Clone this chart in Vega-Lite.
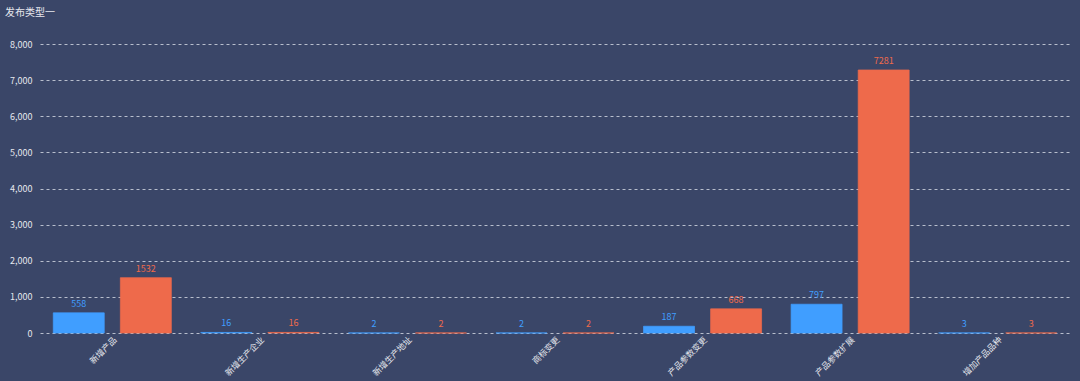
{
  "$schema": "https://vega.github.io/schema/vega-lite/v6.json",
  "width": 1030,
  "height": 289,
  "autosize": {"type": "none"},
  "padding": {"left": 40, "top": 44, "right": 10, "bottom": 48},
  "background": "#3a4668",
  "title": {"text": "发布类型一", "anchor": "start", "frame": "group", "dx": -35, "offset": 22, "fontSize": 10, "fontWeight": "normal", "color": "#e6e8ee", "font": "Noto Sans CJK SC"},
  "config": {"view": {"stroke": null}, "font": "Noto Sans CJK SC"},
  "data": {"values": [
    {"category": "新增产品", "series": "系列1", "value": 558},
    {"category": "新增产品", "series": "系列2", "value": 1532},
    {"category": "新增生产企业", "series": "系列1", "value": 16},
    {"category": "新增生产企业", "series": "系列2", "value": 16},
    {"category": "新增生产地址", "series": "系列1", "value": 2},
    {"category": "新增生产地址", "series": "系列2", "value": 2},
    {"category": "商标变更", "series": "系列1", "value": 2},
    {"category": "商标变更", "series": "系列2", "value": 2},
    {"category": "产品参数变更", "series": "系列1", "value": 187},
    {"category": "产品参数变更", "series": "系列2", "value": 668},
    {"category": "产品参数扩展", "series": "系列1", "value": 797},
    {"category": "产品参数扩展", "series": "系列2", "value": 7281},
    {"category": "增加产品品种", "series": "系列1", "value": 3},
    {"category": "增加产品品种", "series": "系列2", "value": 3}
  ]},
  "encoding": {
    "x": {"field": "category", "type": "nominal", "sort": null,
      "scale": {"paddingInner": 0.2, "paddingOuter": 0.09},
      "axis": {"title": null, "labelAngle": -45, "labelAlign": "right", "labelBaseline": "top", "labelColor": "#e6e8ee", "labelFontSize": 8.5, "ticks": false, "domain": false, "labelPadding": 2}},
    "xOffset": {"field": "series", "type": "nominal", "scale": {"paddingInner": 0.24, "paddingOuter": 0}},
    "y": {"field": "value", "type": "quantitative",
      "scale": {"domain": [0, 8000], "nice": false},
      "axis": {"title": null, "values": [0, 1000, 2000, 3000, 4000, 5000, 6000, 7000, 8000], "format": ",d", "labelColor": "#e6e8ee", "labelFontSize": 9, "ticks": false, "domain": false, "labelPadding": 8, "gridColor": "#d8dce6", "gridDash": [3, 3], "gridOpacity": 0.8, "gridWidth": 1}},
    "color": {"field": "series", "type": "nominal", "scale": {"domain": ["系列1", "系列2"], "range": ["#409eff", "#ee6a4b"]}, "legend": null}
  },
  "layer": [
    {"mark": {"type": "bar", "strokeWidth": 1, "strokeOpacity": 0.7},
     "encoding": {"stroke": {"field": "series", "type": "nominal", "scale": {"domain": ["系列1", "系列2"], "range": ["#409eff", "#ee6a4b"]}, "legend": null}}},
    {"mark": {"type": "text", "dy": -4, "fontSize": 9, "baseline": "bottom"}, "encoding": {"text": {"field": "value", "type": "quantitative", "format": "d"}}}
  ]
}
